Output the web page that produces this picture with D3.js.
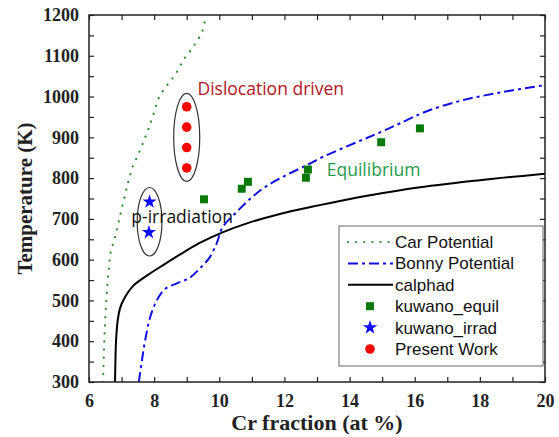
<!DOCTYPE html>
<html>
<head>
<meta charset="utf-8">
<script src="https://cdn.jsdelivr.net/npm/d3@7"></script>
<style>
  body { margin: 0; background: #fff; }
  svg { display: block; }
</style>
</head>
<body>
<svg id="chart" width="559" height="437"></svg>
<script>
// curves: [Cr at %, T (K)]
const carPotential = [[6.43, 300], [6.47, 400], [6.53, 500], [6.6, 570], [6.67, 620], [6.78, 650], [6.9, 690],
	[7.05, 740], [7.2, 790], [7.35, 830], [7.5, 856], [7.65, 885], [7.8, 915], [7.96, 952], [8.15, 998],
	[8.35, 1023], [8.55, 1043], [8.75, 1067], [8.9, 1090], [9.1, 1111], [9.3, 1134], [9.47, 1158], [9.56, 1188]];
const bonnyPotential = [[7.53, 300], [7.62, 350], [7.72, 400], [7.87, 457], [8.08, 500], [8.33, 528], [8.7, 542],
	[9.1, 556], [9.4, 578], [9.7, 605], [9.92, 640], [10.1, 679], [10.57, 720], [11.03, 755], [11.46, 781],
	[12.05, 807], [12.72, 833], [13.18, 852], [14.22, 888], [14.93, 912], [15.54, 934], [16.37, 964],
	[17.47, 991], [18.7, 1011], [20, 1028]];
const calphad = [[6.8, 300], [6.83, 400], [6.88, 450], [6.95, 480], [7.05, 500], [7.35, 535], [7.8, 562],
	[8.3, 588], [8.8, 613], [9.4, 641], [10.1, 667], [10.85, 689], [11.86, 712], [12.8, 729], [13.9, 747],
	[15.94, 775], [18, 795], [20, 811]];

// measured points
const kuwanoEquil = [[9.53, 748], [10.69, 774], [10.88, 791], [12.66, 801], [12.72, 821], [14.97, 888], [16.16, 922]];
const kuwanoIrrad = [[7.86, 742], [7.84, 667]];
const presentWork = [[9.0, 975], [9.0, 925], [9.0, 875], [9.0, 825]];

// ellipses round the groups: [cx, cy, rx, ry] in data units
const groupEllipses = [[9.0, 900, 0.4, 108], [7.86, 693, 0.38, 84]];

const xTicks = d3.range(6, 21, 1);
const yTicks = d3.range(300, 1201, 50);

const legendEntries = [
	{ label: 'Car Potential', kind: 'car' },
	{ label: 'Bonny Potential', kind: 'bonny' },
	{ label: 'calphad', kind: 'calphad' },
	{ label: 'kuwano_equil', kind: 'square' },
	{ label: 'kuwano_irrad', kind: 'star' },
	{ label: 'Present Work', kind: 'circle' }
];

const margin = { top: 15, right: 14, bottom: 55, left: 89 };
const width = 559 - margin.left - margin.right;
const height = 437 - margin.top - margin.bottom;

const svg = d3.select('#chart');
const g = svg.append('g').attr('transform', 'translate(' + margin.left + ',' + margin.top + ')');

const xScale = d3.scaleLinear().domain([6, 20]).range([0, width]);
const yScale = d3.scaleLinear().domain([300, 1200]).range([height, 0]);

const styles = {
	car: { stroke: '#2e8b2e', width: 2.2, dash: '0.1,8', cap: 'round' },
	bonny: { stroke: '#1010e0', width: 2, dash: '10,4,3,4', cap: 'butt' },
	calphad: { stroke: '#000', width: 2, dash: null, cap: 'butt' }
};

const line = d3.line()
	.x(function(d) { return xScale(d[0]); })
	.y(function(d) { return yScale(d[1]); })
	.curve(d3.curveCatmullRom.alpha(0.5));

g.append('defs').append('clipPath').attr('id', 'plotClip')
	.append('rect').attr('width', width).attr('height', height);

const plot = g.append('g').attr('clip-path', 'url(#plotClip)');

[[carPotential, 'car'], [bonnyPotential, 'bonny'], [calphad, 'calphad']].forEach(function(c) {
	let s = styles[c[1]];
	plot.append('path')
		.datum(c[0])
		.attr('d', line)
		.attr('fill', 'none')
		.attr('stroke', s.stroke)
		.attr('stroke-width', s.width)
		.attr('stroke-linecap', s.cap)
		.attr('stroke-dasharray', s.dash);
});

// ellipses
g.selectAll('ellipse.group')
	.data(groupEllipses)
	.enter().append('ellipse')
	.attr('cx', function(d) { return xScale(d[0]); })
	.attr('cy', function(d) { return yScale(d[1]); })
	.attr('rx', function(d) { return xScale(d[0] + d[2]) - xScale(d[0]); })
	.attr('ry', function(d) { return yScale(d[1] - d[3]) - yScale(d[1]); })
	.attr('fill', 'none')
	.attr('stroke', '#333')
	.attr('stroke-width', 1.2);

const markerPath = {
	square: d3.symbol().type(d3.symbolSquare).size(64)(),
	star: d3.symbol().type(d3.symbolStar).size(64)(),
	circle: d3.symbol().type(d3.symbolCircle).size(72)()
};
const markerColor = { square: '#0b7a0b', star: '#0a0aff', circle: '#ff0000' };

[[kuwanoEquil, 'square'], [kuwanoIrrad, 'star'], [presentWork, 'circle']].forEach(function(m) {
	g.selectAll(null)
		.data(m[0])
		.enter().append('path')
		.attr('d', markerPath[m[1]])
		.attr('transform', function(d) { return 'translate(' + xScale(d[0]) + ',' + yScale(d[1]) + ')'; })
		.attr('fill', markerColor[m[1]]);
});

// annotations
const noteFont = '"Open Sans", "Noto Sans", sans-serif';
g.append('text').attr('x', xScale(9.33)).attr('y', yScale(1003))
	.attr('font-family', noteFont).attr('font-size', 17.5).attr('fill', '#b3141e')
	.text('Dislocation driven');
g.append('text').attr('x', xScale(13.3)).attr('y', yScale(806))
	.attr('font-family', noteFont).attr('font-size', 17.5).attr('fill', '#1f9a4a')
	.text('Equilibrium');
g.append('text').attr('x', xScale(7.3)).attr('y', yScale(690))
	.attr('font-family', noteFont).attr('font-size', 17.5).attr('fill', '#111')
	.text('p-irradiation');

// axes, ticks pointing inward
const tickFont = '"Liberation Serif", "Times New Roman", serif';
function styleAxis(sel) {
	sel.select('.domain').remove();
	sel.selectAll('.tick line').attr('stroke', '#222').attr('stroke-width', 1.2);
	sel.selectAll('.tick text').attr('font-family', tickFont).attr('font-weight', 'bold')
		.attr('font-size', 18).attr('fill', '#222');
}

g.append('g').attr('transform', 'translate(0,' + height + ')')
	.call(d3.axisBottom(xScale).tickValues(xTicks).tickSize(-5).tickPadding(12)
		.tickFormat(function(d) { return d % 2 === 0 ? d : ''; }))
	.call(styleAxis);
g.append('g')
	.call(d3.axisTop(xScale).tickValues(xTicks).tickSize(-5).tickFormat(''))
	.call(styleAxis);
g.append('g')
	.call(d3.axisLeft(yScale).tickValues(yTicks).tickSize(-5).tickPadding(10)
		.tickFormat(function(d) { return d % 100 === 0 ? d : ''; }))
	.call(styleAxis);
g.append('g').attr('transform', 'translate(' + width + ',0)')
	.call(d3.axisRight(yScale).tickValues(yTicks).tickSize(-5).tickFormat(''))
	.call(styleAxis);

g.append('rect')
	.attr('width', width).attr('height', height)
	.attr('fill', 'none').attr('stroke', '#222').attr('stroke-width', 1.5);

// axis titles
svg.append('text')
	.attr('x', margin.left + width / 2).attr('y', 430)
	.attr('text-anchor', 'middle')
	.attr('font-family', tickFont).attr('font-weight', 'bold').attr('font-size', 22).attr('fill', '#222')
	.text('Cr fraction (at %)');
svg.append('text')
	.attr('transform', 'translate(32,' + (margin.top + height / 2) + ') rotate(-90)')
	.attr('text-anchor', 'middle')
	.attr('font-family', tickFont).attr('font-weight', 'bold').attr('font-size', 21).attr('fill', '#222')
	.text('Temperature (K)');

// legend
const legend = g.append('g').attr('transform', 'translate(' + (339 - margin.left) + ',' + (226 - margin.top) + ')');
legend.append('rect').attr('width', 204).attr('height', 140)
	.attr('fill', '#fff').attr('stroke', '#666').attr('stroke-width', 1);

const legendRow = d3.scaleLinear().domain([0, legendEntries.length - 1]).range([16, 123]);
const rows = legend.selectAll('g.row')
	.data(legendEntries)
	.enter().append('g')
	.attr('transform', function(d, i) { return 'translate(0,' + legendRow(i) + ')'; });

rows.each(function(d) {
	let row = d3.select(this);
	if (styles[d.kind]) {
		let s = styles[d.kind];
		row.append('line').attr('x1', 9).attr('x2', 54).attr('y1', 0).attr('y2', 0)
			.attr('stroke', s.stroke).attr('stroke-width', s.width)
			.attr('stroke-linecap', s.cap).attr('stroke-dasharray', s.dash);
	} else {
		row.append('path').attr('d', markerPath[d.kind])
			.attr('transform', 'translate(31,0)')
			.attr('fill', markerColor[d.kind]);
	}
	row.append('text').attr('x', 56).attr('y', 6)
		.attr('font-family', '"Liberation Sans", Arial, sans-serif').attr('font-size', 17).attr('fill', '#111')
		.text(d.label);
});
</script>
</body>
</html>
